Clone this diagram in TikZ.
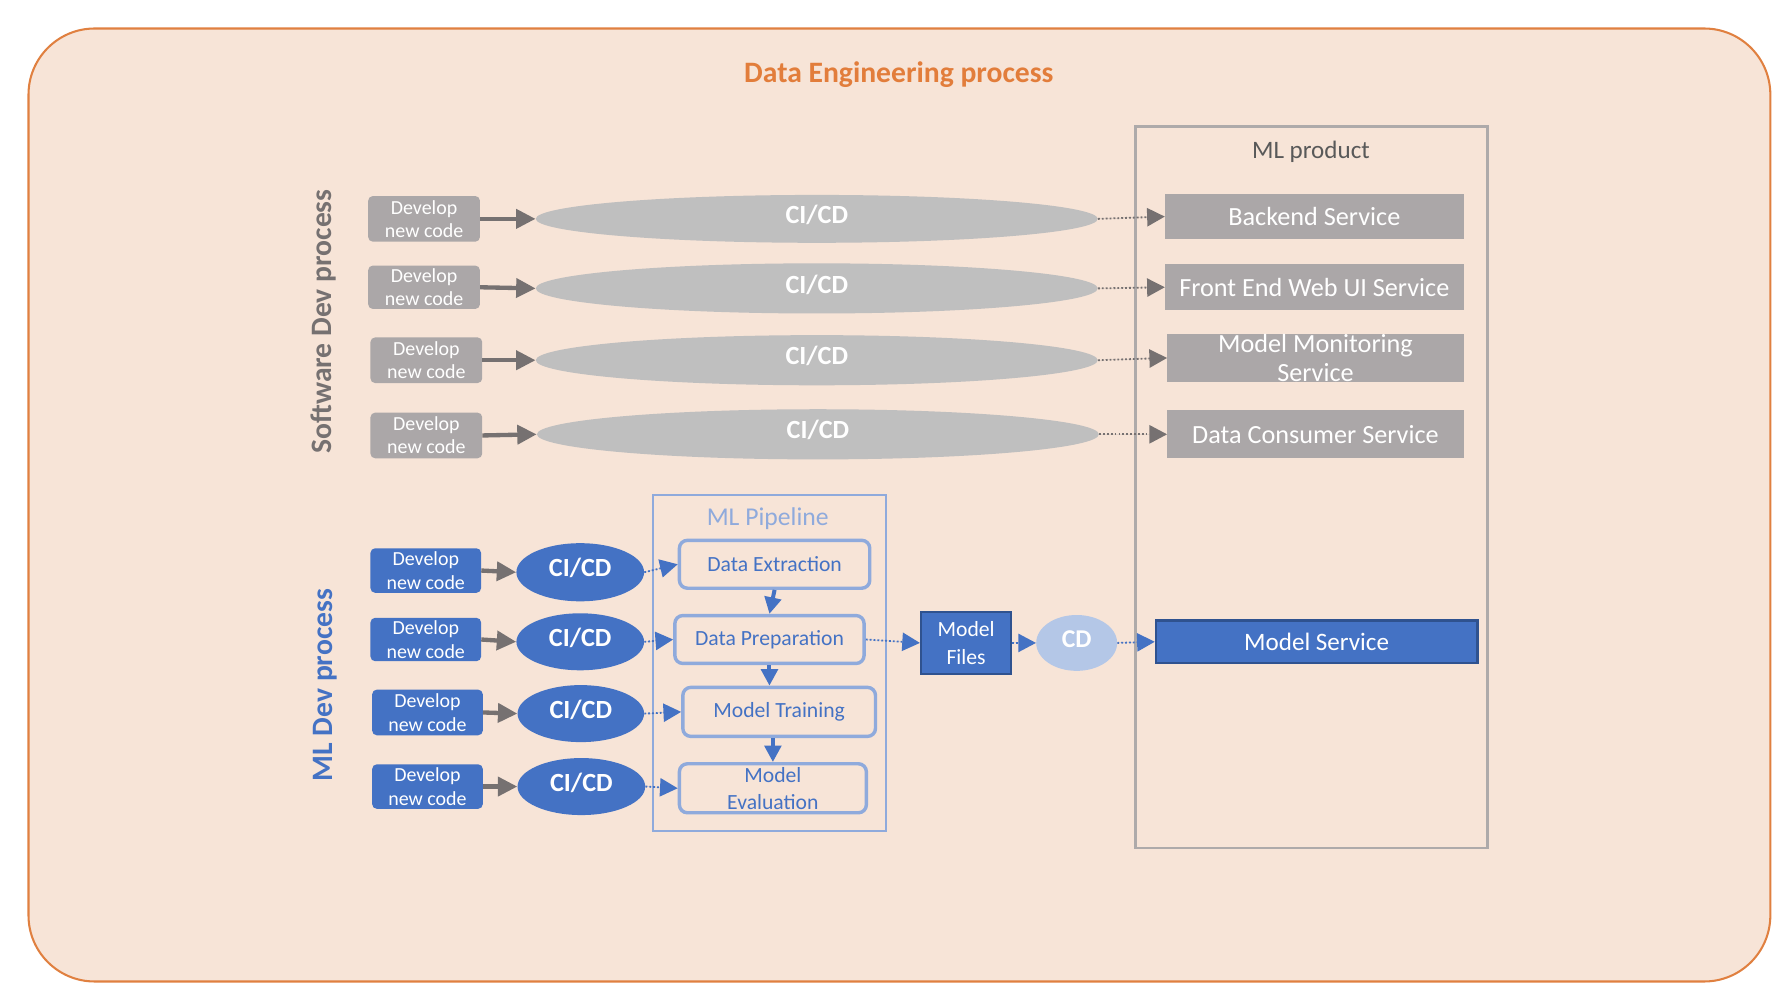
\documentclass[tikz,border=0pt]{standalone}
\usepackage{fontspec}
\setmainfont{Carlito}
\usetikzlibrary{shapes.geometric,arrows.meta}
\definecolor{peach}{HTML}{F7E4D7}
\definecolor{orangeline}{HTML}{E08040}
\definecolor{orangetext}{HTML}{E27D3B}
\definecolor{boxgray}{HTML}{ABA7A8}
\definecolor{ellgray}{HTML}{BFBFBF}
\definecolor{arrowgray}{HTML}{767171}
\definecolor{darktext}{HTML}{595959}
\definecolor{blueA}{HTML}{4472C4}
\definecolor{blueB}{HTML}{2F528F}
\definecolor{blueL}{HTML}{8FAADC}
\definecolor{blueCD}{HTML}{B4C7E7}
\definecolor{prodgray}{HTML}{AEAAAA}
\newcommand\fsz[2]{\fontsize{#1}{#2}\selectfont}
\begin{document}
\begin{tikzpicture}[x=1pt,y=-1pt,
  devbox/.style={rectangle, rounded corners=4pt, fill=#1, text=white, minimum width=98pt, minimum height=40pt, inner sep=0pt, align=center, font=\fsz{17.5}{20.5}},
  topell/.style={ellipse, fill=ellgray, text=white, minimum width=493pt, minimum height=44pt, inner sep=0pt, text depth=8pt, font=\bfseries\fsz{23}{27}},
  botell/.style={ellipse, fill=blueA, text=white, minimum width=112pt, minimum height=50pt, inner sep=0pt, text depth=8pt, font=\bfseries\fsz{23}{27}},
  svcbox/.style={rectangle, fill=boxgray, text=white, minimum width=261pt, minimum height=40pt, inner sep=0pt, align=center, font=\fsz{23}{25.5}},
  pipebox/.style={rectangle, draw=blueL, line width=3pt, rounded corners=7pt, text=blueA, minimum height=42pt, inner sep=0pt, align=center, font=\fsz{19}{24}},
  bluebox/.style={rectangle, fill=blueA, draw=blueB, line width=2pt, text=white, inner sep=0pt, align=center},
  garrow/.style={draw=arrowgray, line width=3.8pt, -{Triangle[length=17pt,width=16.5pt]}},
  barrow/.style={draw=blueA, line width=3.5pt, -{Triangle[length=14.5pt,width=14.5pt]}},
  dotarrow/.style={draw=#1, fill=#1, line width=1.6pt, dash pattern=on 1.6pt off 1.8pt, -{Triangle[length=15.5pt,width=16pt]}},
  label/.style={rotate=90, anchor=base, font=\bfseries\fsz{26}{30}}
]
\useasboundingbox (0,0) rectangle (1565,877);
% outer frame
\draw[fill=peach, draw=orangeline, line width=1.8pt, rounded corners=58pt] (25,25) rectangle (1553,861);
\node[anchor=base, text=orangetext, font=\bfseries\fsz{26}{30}] (title) at (788.5,72.5) {Data Engineering process};

% ML product container
\node[draw=prodgray, line width=2pt, minimum width=309pt, minimum height=633pt, inner sep=0pt] (mlprod) at (1150.5,427.5) {};
\node[anchor=base, text=darktext, font=\fsz{22}{26}] (mlprodt) at (1150,139) {ML product};

% ML pipeline container
\node[draw=blueL, line width=1.5pt, minimum width=204pt, minimum height=295pt, inner sep=0pt] (pipe) at (675,581.5) {};
\node[anchor=base, text=blueL, font=\fsz{22.5}{26}] (pipet) at (673.5,461.4) {ML Pipeline};

% side labels
\node[label, text=arrowgray] (swlabel) at (291,282) {Software Dev process};
\node[label, text=blueA] (mllabel) at (291.5,601) {ML Dev process};

% software dev rows
\node[devbox=boxgray] (d1) at (372,192) {Develop\\new code};
\node[devbox=boxgray, minimum height=38pt] (d2) at (372,252) {Develop\\new code};
\node[devbox=boxgray] (d3) at (374,316) {Develop\\new code};
\node[devbox=boxgray] (d4) at (374,382) {Develop\\new code};

\node[topell, minimum height=42pt] (c1) at (716.5,192) {CI/CD};
\node[topell] (c2) at (716.5,253) {CI/CD};
\node[topell] (c3) at (716.5,316) {CI/CD};
\node[topell] (c4) at (717.5,381) {CI/CD};

\node[svcbox, minimum width=262pt] (s1) at (1153,190) {Backend Service};
\node[svcbox, minimum width=262pt] (s2) at (1153,252) {Front End Web UI Service};
\node[svcbox, minimum width=260pt, minimum height=42pt] (s3) at (1154,314) {Model Monitoring\\Service};
\node[svcbox, minimum width=260pt, minimum height=42pt] (s4) at (1154,381) {Data Consumer Service};

\foreach \i in {1,2,3,4}{
  \draw[garrow] (d\i.east) -- (c\i.west);
  \draw[dotarrow=arrowgray] (c\i.east) -- (s\i.west);
}

% ML dev rows
\node[devbox=blueA, minimum width=97pt, minimum height=39pt] (b1) at (373.5,500.5) {Develop\\new code};
\node[devbox=blueA, minimum width=97pt, minimum height=38pt] (b2) at (373.5,561) {Develop\\new code};
\node[devbox=blueA, minimum width=97pt] (b3) at (375,625) {Develop\\new code};
\node[devbox=blueA, minimum width=97pt, minimum height=39pt] (b4) at (375,690) {Develop\\new code};

\node[botell, minimum height=51pt] (e1) at (509,502) {CI/CD};
\node[botell] (e2) at (509,563) {CI/CD};
\node[botell, minimum width=111pt] (e3) at (509.5,626) {CI/CD};
\node[botell] (e4) at (510,690) {CI/CD};

\node[pipebox, minimum width=167pt] (de) at (679.5,495) {Data Extraction};
\node[pipebox, minimum width=166pt] (dp) at (675,561) {Data Preparation};
\node[pipebox, minimum width=169pt, minimum height=43pt] (mt) at (683.5,624.5) {Model Training};
\node[pipebox, minimum width=164pt, minimum height=43pt] (me) at (678,691.5) {Model\\Evaluation};

\foreach \i in {1,2,3,4}{
  \draw[garrow] (b\i.east) -- (e\i.west);
}
\draw[dotarrow=blueA] (e1.east) -- (de.west);
\draw[dotarrow=blueA] (e2.east) -- (dp.west);
\draw[dotarrow=blueA] (e3.east) -- (mt.west);
\draw[dotarrow=blueA] (e4.east) -- (me.west);

\draw[barrow] (de.south) -- (dp.north);
\draw[barrow] (dp.south) -- (dp.south |- mt.north);
\draw[barrow] (me.north |- mt.south) -- (me.north);

\node[bluebox, minimum width=79pt, minimum height=54pt, font=\fsz{19}{24}] (mf) at (847.5,564) {Model\\Files};
\node[ellipse, fill=blueCD, text=white, minimum width=71pt, minimum height=49pt, inner sep=0pt, text depth=6pt, font=\bfseries\fsz{22.5}{26}] (cd) at (944.5,564) {CD};
\node[bluebox, minimum width=282pt, minimum height=37.5pt, font=\fsz{22}{26}] (ms) at (1155,563) {Model Service};

\draw[dotarrow=blueA] (dp.east) -- (mf.west);
\draw[dotarrow=blueA] (mf.east) -- (cd.west);
\draw[dotarrow=blueA] (cd.east) -- (ms.west);
\end{tikzpicture}
\end{document}
